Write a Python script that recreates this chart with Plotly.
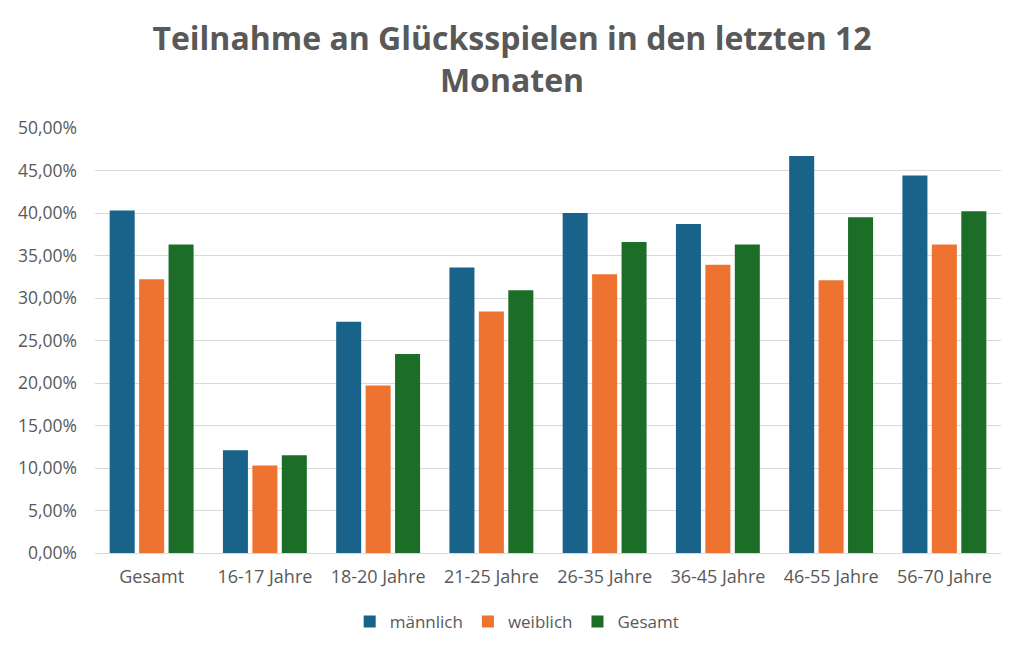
import plotly.graph_objects as go

categories = ["Gesamt", "16-17 Jahre", "18-20 Jahre", "21-25 Jahre",
              "26-35 Jahre", "36-45 Jahre", "46-55 Jahre", "56-70 Jahre"]
maennlich = [0.403, 0.121, 0.272, 0.336, 0.400, 0.387, 0.467, 0.444]
weiblich = [0.322, 0.103, 0.197, 0.284, 0.328, 0.339, 0.321, 0.363]
gesamt = [0.363, 0.115, 0.234, 0.309, 0.366, 0.363, 0.395, 0.402]

series_names = ["männlich", "weiblich", "Gesamt"]
series_values = [maennlich, weiblich, gesamt]
colors = ["#19638A", "#EE7230", "#1B6D27"]

fig = go.Figure()
for name, vals, col in zip(series_names, series_values, colors):
    fig.add_trace(go.Bar(
        x=categories, y=vals, name=name,
        marker=dict(color=col, line=dict(width=0)),
    ))

text_color = "#595959"
fig.update_layout(
    width=1024, height=651,
    margin=dict(l=95, r=23, t=128, b=98, autoexpand=False),
    paper_bgcolor="white", plot_bgcolor="white",
    separators=",.",
    font=dict(family="Open Sans, Roboto, sans-serif", size=18, color=text_color),
    title=dict(
        text="Teilnahme an Glücksspielen in den letzten 12<br>Monaten",
        x=0.5, xanchor="center", xref="container",
        y=0.923, yanchor="middle", yref="container",
        font=dict(size=32, color=text_color, weight=700,
                  family="Open Sans, Roboto, sans-serif"),
    ),
    barmode="group", bargap=0.22, bargroupgap=0.15,
    legend=dict(orientation="h", x=0.466, xanchor="center",
                y=-0.162, yanchor="middle",
                font=dict(size=17, color=text_color), traceorder="normal",
                itemwidth=30),
    showlegend=True,
)
fig.update_yaxes(
    range=[0, 0.5], dtick=0.05, tickformat=".2%",
    showgrid=True, gridcolor="#D9D9D9", gridwidth=1,
    zeroline=False, showline=False, ticks="",
    ticklabelstandoff=17,
    tickfont=dict(size=17.5, color=text_color),
)
fig.update_xaxes(
    showline=True, linecolor="#D9D9D9", linewidth=1,
    ticks="", showgrid=False, ticklabelstandoff=7, tickangle=0,
    tickfont=dict(size=18, color=text_color),
)

fig.write_html("out.html")
